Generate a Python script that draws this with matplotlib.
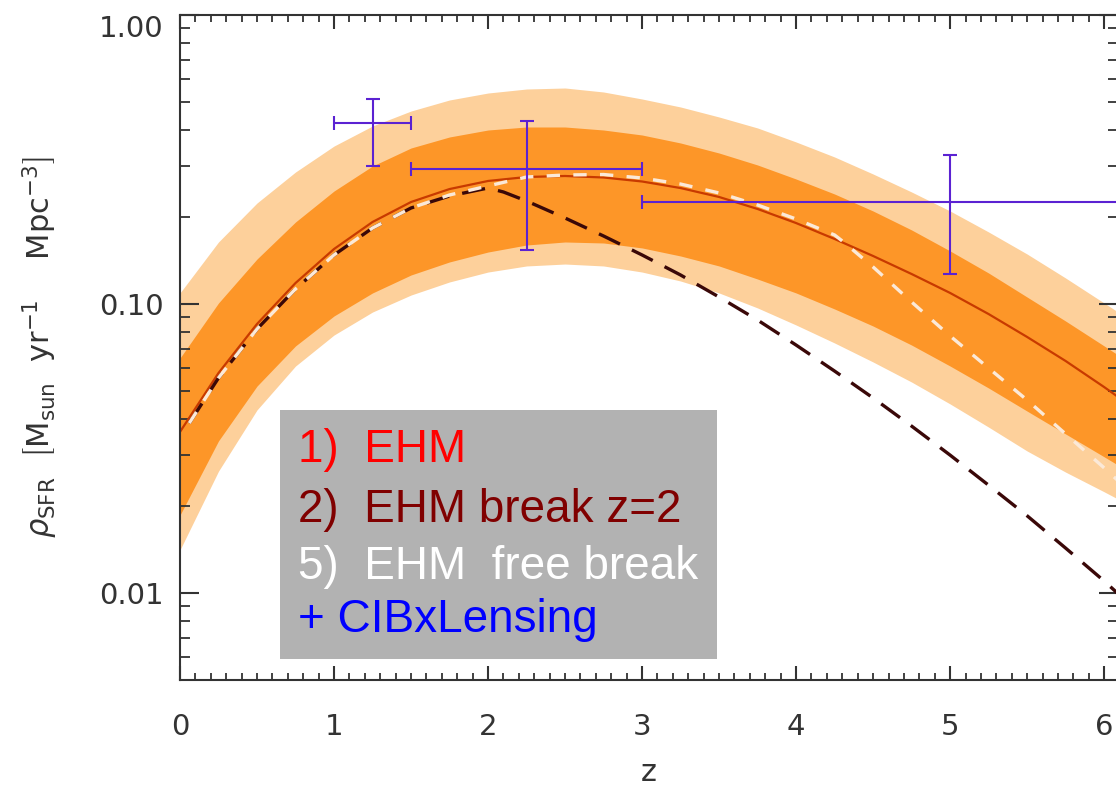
import matplotlib
matplotlib.use('Agg')
import matplotlib.pyplot as plt
from matplotlib.ticker import FixedLocator, NullFormatter, MultipleLocator

# redshift grid for the bands and the EHM fit
z = [0.0, 0.25, 0.5, 0.75, 1.0, 1.25, 1.5, 1.75, 2.0, 2.25, 2.5, 2.75, 3.0,
     3.25, 3.5, 3.75, 4.0, 4.25, 4.5, 4.75, 5.0, 5.25, 5.5, 5.75, 6.0, 6.1]
ehm = [0.0361, 0.0577, 0.0853, 0.1182, 0.1550, 0.1922, 0.2254, 0.2499, 0.2665, 0.2751,
       0.2773, 0.2740, 0.2654, 0.2519, 0.2346, 0.2132, 0.1906, 0.1679, 0.1466, 0.1270,
       0.1092, 0.0923, 0.0769, 0.0635, 0.0516, 0.0473]
# 1 sigma band
band1_lo = [0.0186, 0.0336, 0.0520, 0.0716, 0.0909, 0.1092, 0.1260, 0.1398, 0.1513, 0.1600,
            0.1639, 0.1626, 0.1563, 0.1466, 0.1354, 0.1220, 0.1092, 0.0961, 0.0839, 0.0721,
            0.0610, 0.0512, 0.0426, 0.0355, 0.0296, 0.0275]
band1_hi = [0.0650, 0.1008, 0.1431, 0.1922, 0.2460, 0.3002, 0.3466, 0.3784, 0.4000, 0.4097,
            0.4097, 0.4000, 0.3844, 0.3607, 0.3330, 0.3027, 0.2707, 0.2402, 0.2098, 0.1804,
            0.1526, 0.1280, 0.1057, 0.0873, 0.0716, 0.0661]
# 2 sigma band
band2_lo = [0.0141, 0.0264, 0.0430, 0.0610, 0.0781, 0.0938, 0.1074, 0.1192, 0.1290, 0.1354,
            0.1375, 0.1354, 0.1290, 0.1201, 0.1092, 0.0969, 0.0846, 0.0733, 0.0630, 0.0537,
            0.0451, 0.0375, 0.0310, 0.0262, 0.0224, 0.0210]
band2_hi = [0.1092, 0.1639, 0.2236, 0.2862, 0.3520, 0.4130, 0.4653, 0.5081, 0.5371, 0.5545,
            0.5590, 0.5415, 0.5121, 0.4805, 0.4437, 0.4065, 0.3636, 0.3226, 0.2817, 0.2441,
            0.2098, 0.1775, 0.1489, 0.1230, 0.1008, 0.0931]

# EHM with break at z=2
z_brk = [0.06, 0.25, 0.5, 0.75, 1.0, 1.25, 1.5, 1.75, 2.0, 2.1, 2.25, 2.5, 2.75, 3.0,
         3.25, 3.5, 3.75, 4.0, 4.25, 4.5, 4.75, 5.0, 5.25, 5.5, 5.75, 6.0, 6.1]
ehm_brk = [0.0387, 0.0555, 0.0819, 0.1127, 0.1478, 0.1832, 0.2149, 0.2365, 0.2520, 0.2441,
           0.2272, 0.1984, 0.1719, 0.1478, 0.1260, 0.1057, 0.0880, 0.0721, 0.0586, 0.0473,
           0.0378, 0.0300, 0.0236, 0.0185, 0.0143, 0.0110, 0.00984]

# EHM with free break
z_free = [0.06, 0.25, 0.5, 0.75, 1.0, 1.25, 1.5, 1.75, 2.0, 2.25, 2.5, 2.75, 3.0, 3.25,
          3.5, 3.75, 4.0, 4.25, 4.3, 4.5, 4.75, 5.0, 5.25, 5.5, 5.75, 6.0, 6.1]
ehm_free = [0.0387, 0.0555, 0.0819, 0.1127, 0.1478, 0.1832, 0.2149, 0.2384, 0.2561, 0.2751,
            0.2795, 0.2806, 0.2729, 0.2601, 0.2422, 0.2201, 0.1968, 0.1733, 0.1652, 0.1343,
            0.1016, 0.0775, 0.0600, 0.0465, 0.0355, 0.0271, 0.0242]

# CIB x lensing points
cib_z = [1.25, 2.25, 5.0]
cib_zlo = [1.0, 1.5, 3.0]
cib_zhi = [1.5, 3.0, 7.0]
cib_rho = [0.423, 0.293, 0.226]
cib_lo = [0.30, 0.154, 0.127]
cib_hi = [0.512, 0.431, 0.328]

fig = plt.figure(figsize=(11.16, 7.86), dpi=100)
ax = fig.add_axes([180 / 1116, 106 / 786, 938 / 1116, 665 / 786])

ax.fill_between(z, band2_lo, band2_hi, color='#fdd09b', lw=0)
ax.fill_between(z, band1_lo, band1_hi, color='#fd9628', lw=0)
ax.plot(z, ehm, color='#c83a00', lw=1.6)
ax.plot(z_brk, ehm_brk, color='#3a0808', lw=2.4, dashes=(7, 4))
ax.plot(z_free, ehm_free, color='#fbe9d8', lw=2.4, dashes=(4, 4))

xerr = [[c - lo for c, lo in zip(cib_z, cib_zlo)], [hi - c for c, hi in zip(cib_z, cib_zhi)]]
yerr = [[c - lo for c, lo in zip(cib_rho, cib_lo)], [hi - c for c, hi in zip(cib_rho, cib_hi)]]
ax.errorbar(cib_z, cib_rho, xerr=xerr, yerr=yerr, fmt='none', ecolor='#5b22d2',
            elinewidth=1.5, capsize=5, capthick=1.5)

ax.set_yscale('log')
ax.set_xlim(0, 6.09)
ax.set_ylim(0.005, 1.0)

ax.xaxis.set_major_locator(MultipleLocator(1))
ax.xaxis.set_minor_locator(MultipleLocator(0.1))
ax.yaxis.set_major_locator(FixedLocator([0.01, 0.1, 1.0]))
ax.set_yticklabels(['0.01', '0.10', '1.00'])
ax.yaxis.set_minor_formatter(NullFormatter())
ax.get_yticklabels()[2].set_va('top')

for s in ax.spines.values():
    s.set_linewidth(1.5)
    s.set_color('#333333')
ax.tick_params(which='both', direction='in', top=True, right=True, color='#333333',
               labelcolor='#333333', labelsize=21)
ax.tick_params(axis='x', which='major', length=10, width=1.5, pad=24)
ax.tick_params(axis='x', which='minor', length=5, width=1.3)
ax.tick_params(axis='y', which='major', length=14, width=1.5, pad=12)
ax.tick_params(axis='y', which='minor', length=7, width=1.3)

ax.set_xlabel('z', fontsize=22, color='#333333', labelpad=12)
ax.set_ylabel(r'$\rho_{\rm SFR}\ \ \left[{\rm M_{sun}\ \ yr^{-1}\ \ \ \ Mpc^{-3}}\right]$',
              fontsize=22, color='#333333', labelpad=28)

# legend box
ax.add_patch(plt.Rectangle((0.1066, 0.0316), 0.4664, 0.3744, transform=ax.transAxes,
                           facecolor='#b2b2b2', edgecolor='none', zorder=5))
labels = ['1)  EHM', '2)  EHM break z=2', '5)  EHM  free break', '+ CIBxLensing']
colors = ['#ff0000', '#800000', '#ffffff', '#0000ff']
ypos = [0.346, 0.256, 0.170, 0.090]
for t, c, yy in zip(labels, colors, ypos):
    ax.text(0.1257, yy, t, transform=ax.transAxes, color=c, fontsize=33,
            family='Liberation Sans', va='center', ha='left', zorder=6)

fig.savefig('out.png', dpi=100)
